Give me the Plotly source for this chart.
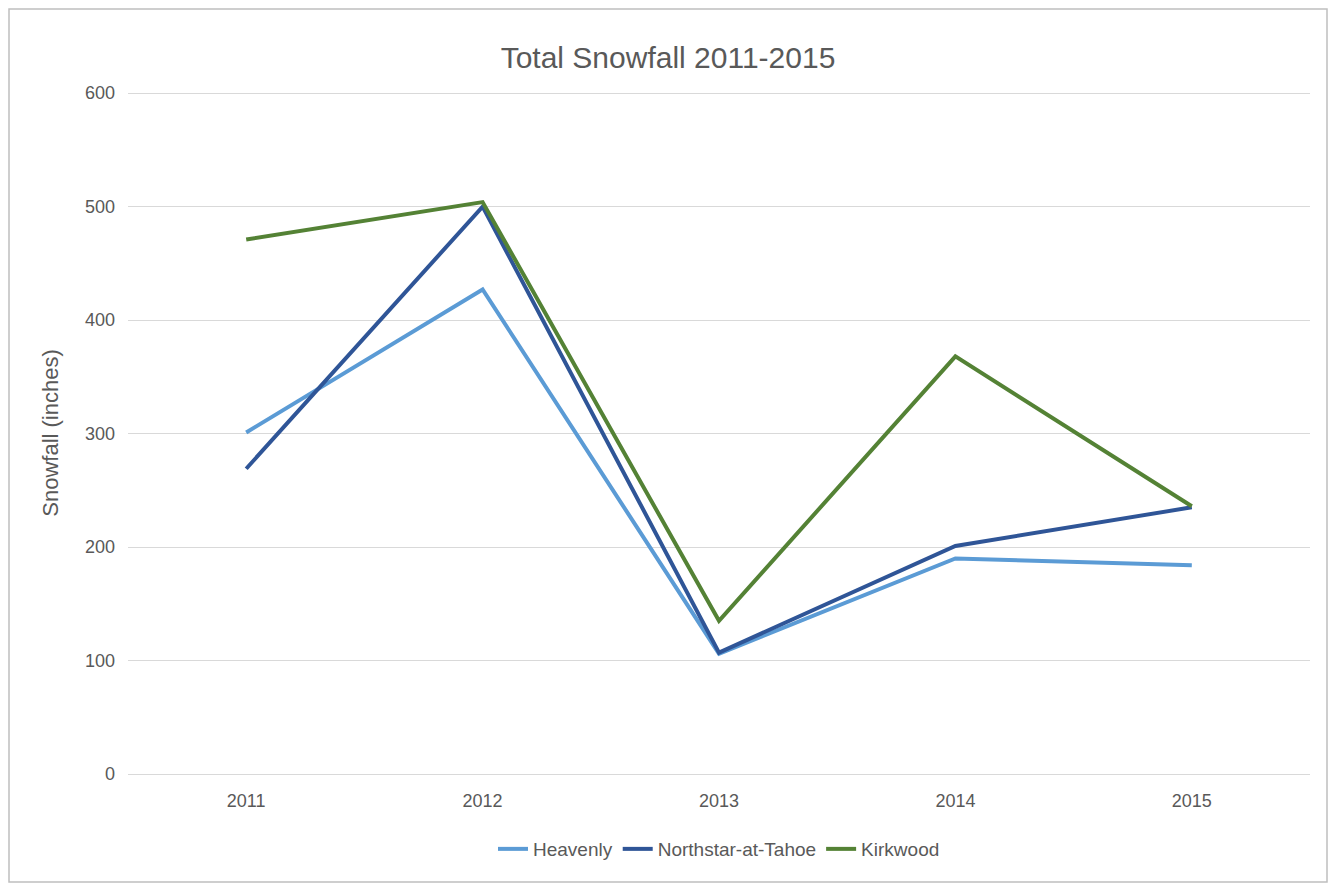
import plotly.graph_objects as go

years = ["2011", "2012", "2013", "2014", "2015"]
heavenly = [301, 427, 106, 190, 184]
northstar = [269, 500, 107, 201, 235]
kirkwood = [471, 504, 135, 368, 236]

series = [("Heavenly", heavenly, "#5B9BD5"),
          ("Northstar-at-Tahoe", northstar, "#2F5597"),
          ("Kirkwood", kirkwood, "#548235")]

fig = go.Figure()
for name, vals, col in series:
    fig.add_trace(go.Scatter(x=years, y=vals, name=name, mode="lines",
                             line=dict(color=col, width=4)))

# page has an 8px body margin, so shrink the figure to fit the window
W, H = 1320, 875
l, r, t, b = 120, 18, 84, 109
pw, ph = W - l - r, H - t - b

fig.update_layout(
    width=W, height=H, margin=dict(l=l, r=r, t=t, b=b),
    paper_bgcolor="white", plot_bgcolor="white",
    font=dict(family="Liberation Sans, Arial", size=18, color="#595959"),
    title=dict(text="Total Snowfall 2011-2015", x=0.5, y=0.955, xanchor="center",
               font=dict(size=30, color="#595959")),
    xaxis=dict(type="category", range=[-0.5, 4.5], showgrid=False,
               showline=True, linecolor="#D9D9D9", ticks="", ticklabelstandoff=10),
    yaxis=dict(range=[0, 601], tickvals=[0, 100, 200, 300, 400, 500, 600],
               gridcolor="#D9D9D9", zeroline=False,
               title=dict(text="Snowfall (inches)", standoff=20), ticklabelstandoff=12),
    legend=dict(orientation="h", x=0.5, xanchor="center", y=-0.11, yanchor="middle",
                font=dict(size=19)),
    showlegend=True,
)
fig.add_shape(type="rect", xref="paper", yref="paper",
              x0=-(l - 1) / pw, x1=1 + (r - 1) / pw,
              y0=-(b - 1) / ph, y1=1 + (t - 1) / ph,
              line=dict(color="#BFBFBF", width=1.5))
fig.write_html("out.html")
